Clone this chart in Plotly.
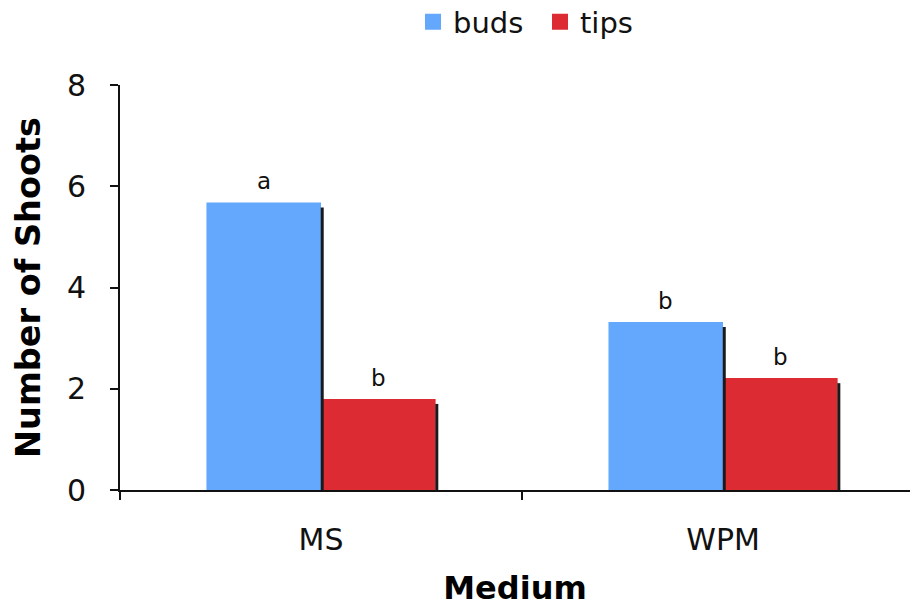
import plotly.graph_objects as go

categories = ["MS", "WPM"]
buds = [5.68, 3.32]
tips = [1.80, 2.21]
buds_letters = ["a", "b"]
tips_letters = ["b", "b"]
y_ticks = [0, 2, 4, 6, 8]

BLUE = "#63A8FD"
RED = "#DC2B32"
FONT = "DejaVu Sans"

bargap = 0.43
bw = (1 - bargap) / 2

fig = go.Figure()
fig.add_trace(go.Bar(name="buds", x=categories, y=buds, showlegend=False,
                     marker=dict(color=BLUE, line=dict(width=0))))
fig.add_trace(go.Bar(name="tips", x=categories, y=tips, showlegend=False,
                     marker=dict(color=RED, line=dict(width=0))))
# legend entries with larger square swatches (plotted on a hidden axis whose range excludes them)
for name, col, vals in [("buds", BLUE, buds), ("tips", RED, tips)]:
    fig.add_trace(go.Scatter(name=name, x=categories, y=vals, mode="markers", yaxis="y2",
                             hoverinfo="skip",
                             marker=dict(symbol="square", size=16, color=col)))

shapes = []
annotations = []
for i in range(len(categories)):
    for j, (vals, letters) in enumerate([(buds, buds_letters), (tips, tips_letters)]):
        center = i - bw / 2 + j * bw
        right = center + bw / 2
        shapes.append(dict(type="line", xref="x", yref="y", x0=right + 0.003, x1=right + 0.003,
                           y0=0, y1=vals[i] - 0.1,
                           line=dict(color="#1a1a1a", width=3)))
        annotations.append(dict(x=center, y=vals[i], xref="x", yref="y", text=letters[i],
                                showarrow=False, yanchor="bottom", yshift=6,
                                font=dict(family=FONT, size=23, color="#111")))

fig.update_layout(
    width=915, height=607,
    barmode="group", bargap=bargap, bargroupgap=0,
    plot_bgcolor="white", paper_bgcolor="white",
    margin=dict(l=120, r=5, t=85, b=117),
    font=dict(family=FONT, color="#111"),
    shapes=shapes, annotations=annotations,
    legend=dict(orientation="h", xref="container", yref="container",
                x=413 / 915, xanchor="left", y=1 - 22 / 607, yanchor="middle",
                font=dict(family=FONT, size=29, color="#111"),
                itemwidth=30, tracegroupgap=0, entrywidth=82),
    showlegend=True,
    xaxis=dict(
        range=[-0.5, 1.465], showline=True, linecolor="#111", linewidth=2,
        ticks="outside", tickson="boundaries", ticklen=8, tickwidth=2, tickcolor="#111",
        tickfont=dict(family=FONT, size=30, color="#111"), ticklabelstandoff=22,
        title=dict(text="<b>Medium</b>", font=dict(family=FONT, size=32, color="#000"), standoff=21),
        showgrid=False, automargin=False,
    ),
    yaxis=dict(
        range=[0, 8], tickvals=y_ticks, showline=True, linecolor="#111", linewidth=2,
        ticks="outside", ticklen=8, tickwidth=2, tickcolor="#111",
        tickfont=dict(family=FONT, size=30, color="#111"), ticklabelstandoff=18,
        title=dict(text="<b>Number of Shoots</b>", font=dict(family=FONT, size=33.5, color="#000"), standoff=16),
        showgrid=False, zeroline=False, automargin=False,
    ),
    yaxis2=dict(overlaying="y", range=[100, 101], visible=False, fixedrange=True),
)

fig.write_html("out.html", config={"displayModeBar": False},
               post_script="document.body.style.margin='0';")
